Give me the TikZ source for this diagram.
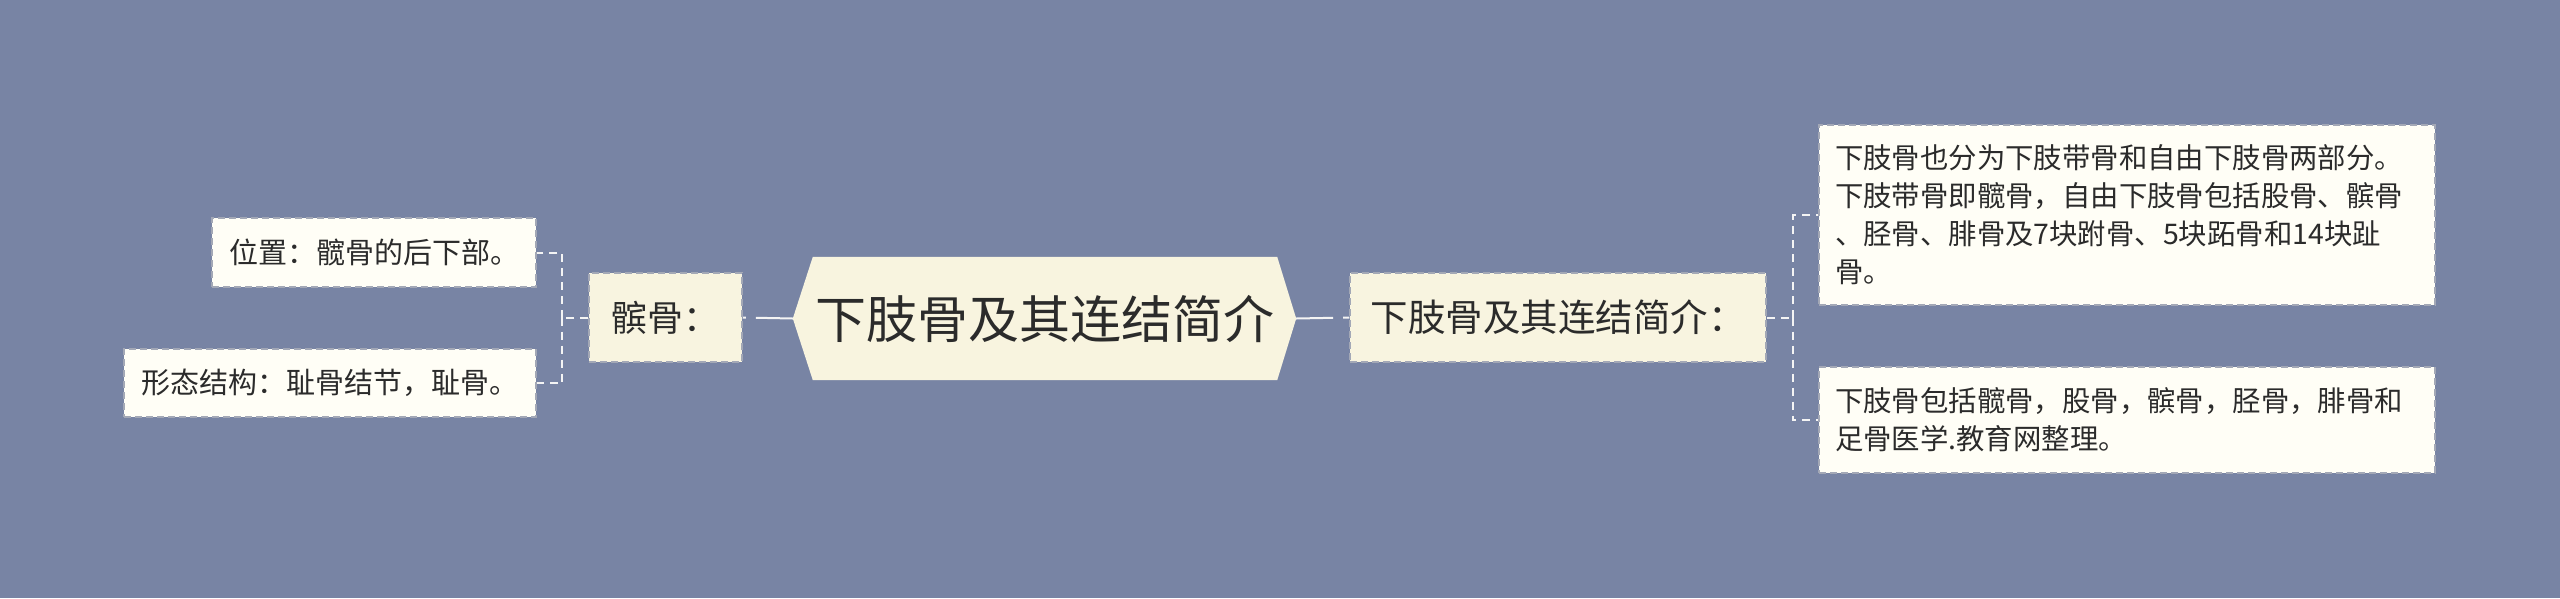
\documentclass[tikz,border=0pt]{standalone}
\usepackage{fontspec}
\setmainfont{Noto Sans CJK SC}
\usetikzlibrary{calc}
\definecolor{bgc}{HTML}{7884A4}
\definecolor{rootfill}{HTML}{F8F4DF}
\definecolor{midfill}{HTML}{F8F4E0}
\definecolor{leaffill}{HTML}{FFFEF6}
\definecolor{boxline}{HTML}{A3A8B6}
\definecolor{txt}{HTML}{2B2B2B}
\definecolor{conn}{HTML}{F4F4F4}
\tikzset{
  midbox/.style={draw=boxline, fill=midfill, line width=1.5pt, dash pattern=on 7pt off 4pt, text=txt, inner sep=0pt, anchor=center},
  leafbox/.style={draw=boxline, fill=leaffill, line width=1.5pt, dash pattern=on 7pt off 4pt, text=txt, inner sep=0pt, anchor=center, font=\fontsize{29pt}{38pt}\selectfont},
  textbox/.style={leafbox, font=\fontsize{28.4pt}{38pt}\selectfont, inner xsep=16pt, inner ysep=0pt, text width=584pt, align=left},
  conline/.style={draw=conn, line width=2pt, dash pattern=on 8pt off 6pt},
  rootline/.style={draw=conn, line width=2pt, dash pattern=on 37pt off 10pt},
}
\begin{document}
\begin{tikzpicture}[x=1pt,y=-1pt]
\fill[bgc] (0,0) rectangle (2560,598);
\useasboundingbox (0,0) rectangle (2560,598);
% root
\node[inner sep=0pt, minimum width=503pt, minimum height=123pt] (root) at (1044.5,318.5) {};
\fill[rootfill] (root.west) -- ($(root.north west)+(20,0)$) -- ($(root.north east)+(-19,0)$) -- (root.east) -- ($(root.south east)+(-19,0)$) -- ($(root.south west)+(20,0)$) -- cycle;
\node[text=txt, font=\fontsize{51pt}{55pt}\selectfont] (roottext) at (root.center) {下肢骨及其连结简介};
% second level
\node[midbox, minimum width=153pt, minimum height=89pt, font=\fontsize{36pt}{40pt}\selectfont] (bin) at (665.5,317.5) {髌骨：};
\node[midbox, minimum width=416pt, minimum height=89pt, font=\fontsize{37.5pt}{42pt}\selectfont] (intro) at (1558,317.5) {下肢骨及其连结简介：};
% left leaves
\node[leafbox, minimum width=324pt, minimum height=69pt] (l1) at (374,252.5) {位置：髋骨的后下部。};
\node[leafbox, minimum width=412pt, minimum height=68pt] (l2) at (330,383) {形态结构：耻骨结节，耻骨。};
% right leaves
\node[textbox, minimum height=180pt] (r1) at (2127,215) {下肢骨也分为下肢带骨和自由下肢骨两部分。\\下肢带骨即髋骨，自由下肢骨包括股骨、髌骨\\、胫骨、腓骨及7块跗骨、5块跖骨和14块趾\\骨。};
\node[textbox, minimum height=106pt] (r2) at (2127,420) {下肢骨包括髋骨，股骨，髌骨，胫骨，腓骨和\\足骨医学.教育网整理。};
% connectors
\draw[rootline] (root.west) -- (bin.east);
\draw[rootline] (root.east) -- (intro.west);
\coordinate (jl) at ($(bin.west)+(-26,0)$);
\coordinate (jr) at ($(intro.east)+(26,0)$);
\draw[conline] (bin.west) -- (jl);
\draw[conline] (jl) |- (l1.east);
\draw[conline] (jl) |- (l2.east);
\draw[conline] (intro.east) -- (jr);
\draw[conline] (jr) |- (r1.west);
\draw[conline] (jr) |- (r2.west);
\end{tikzpicture}
\end{document}
